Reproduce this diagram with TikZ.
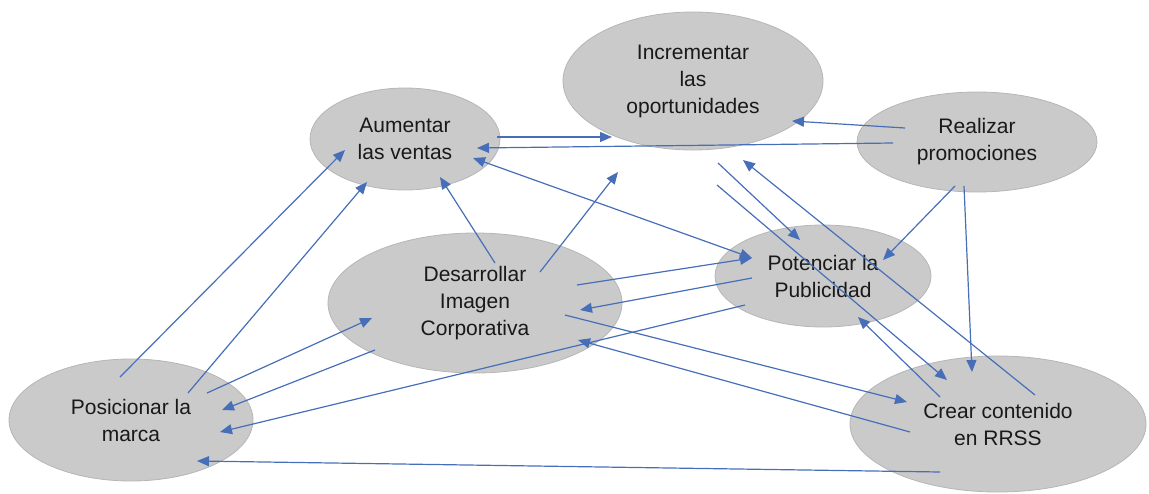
\documentclass[tikz,border=0pt]{standalone}
\usepackage{fontspec}
\setmainfont{Liberation Sans}
\usetikzlibrary{shapes.geometric,arrows.meta,calc}
\definecolor{azul}{RGB}{70,110,185}
\definecolor{grisrelleno}{RGB}{202,202,202}
\definecolor{grisborde}{RGB}{182,182,182}
\definecolor{texto}{RGB}{25,25,25}

\begin{document}
\begin{tikzpicture}[
    x=1pt, y=-1pt,
    every node/.style={font=\fontsize{21}{27}\selectfont, text=texto},
    elipse/.style={ellipse, fill=grisrelleno, draw=grisborde, line width=.8pt,
        inner sep=0pt, align=center},
    punta/.tip={Triangle[length=12pt,width=10pt]},
    flecha/.style={azul, line width=1.2pt, -punta}]
    \useasboundingbox (0,0) rectangle (1149,493);

    % Los siete objetivos.
    \node[elipse, minimum width=190pt, minimum height=102pt] (ventas) at (405,139) {Aumentar\\las ventas};
    \node[elipse, minimum width=260pt, minimum height=138pt] (oport) at (693,81) {Incrementar\\las\\oportunidades};
    \node[elipse, minimum width=240pt, minimum height=100pt] (promo) at (977,142) {Realizar\\promociones};
    \node[elipse, minimum width=216pt, minimum height=102pt] (public) at (823,276) {Potenciar la\\Publicidad};
    \node[elipse, minimum width=294pt, minimum height=140pt] (imagen) at (475,303) {Desarrollar\\Imagen\\Corporativa};
    \node[elipse, minimum width=244pt, minimum height=122pt] (marca) at (131,420) {Posicionar la\\marca};
    \node[elipse, minimum width=296pt, minimum height=136pt] (rrss) at (998,424) {Crear contenido\\en RRSS};

    % Relaciones hacia arriba.
    \draw[flecha] ($(ventas)+(92,-2)$) -- ($(oport)+(-81,56)$);
    \draw[flecha] ($(promo)+(-84,1)$) -- ($(ventas)+(72,9)$);
    \draw[flecha] ($(promo)+(-72,-14)$) -- ($(oport)+(99,40)$);
    \draw[flecha] ($(marca)+(-11,-43)$) -- ($(ventas)+(-60,11)$);
    \draw[flecha] ($(marca)+(57,-27)$) -- ($(ventas)+(-38,43)$);
    \draw[flecha] ($(imagen)+(20,-40)$) -- ($(ventas)+(35,38)$);
    \draw[flecha] ($(imagen)+(65,-31)$) -- ($(oport)+(-75,91)$);
    \draw[flecha] ($(rrss)+(37,-29)$) -- ($(oport)+(50,79)$);

    % Publicidad con ventas e imagen.
    \draw[flecha, punta-punta] ($(ventas)+(68,19)$) -- ($(public)+(-71,-18)$);
    \draw[flecha] ($(imagen)+(102,-18)$) -- ($(public)+(-71,-18)$);
    \draw[flecha] ($(public)+(-71,2)$) -- ($(imagen)+(105,7)$);

    % Flechas que llegan a la marca.
    \draw[flecha] ($(public)+(-78,29)$) -- ($(marca)+(89,12)$);
    \draw[flecha] ($(imagen)+(-100,47)$) -- ($(marca)+(91,-10)$);
    \draw[flecha] ($(marca)+(76,-27)$) -- ($(imagen)+(-103,15)$);
    \draw[flecha] ($(rrss)+(-58,48)$) -- ($(marca)+(66,41)$);

    % Imagen y contenido en RRSS.
    \draw[flecha] ($(imagen)+(90,12)$) -- ($(rrss)+(-91,-22)$);
    \draw[flecha] ($(rrss)+(-88,8)$) -- ($(imagen)+(103,37)$);

    % Promociones, oportunidades y publicidad hacia abajo.
    \draw[flecha] ($(promo)+(-22,44)$) -- ($(public)+(60,-16)$);
    \draw[flecha] ($(promo)+(-13,44)$) -- ($(rrss)+(-26,-52)$);
    \draw[flecha] ($(oport)+(25,82)$) -- ($(public)+(-23,-36)$);
    \draw[flecha] ($(oport)+(24,104)$) -- ($(rrss)+(-51,-44)$);
    \draw[flecha] ($(rrss)+(-58,-27)$) -- ($(public)+(35,41)$);
\end{tikzpicture}
\end{document}
